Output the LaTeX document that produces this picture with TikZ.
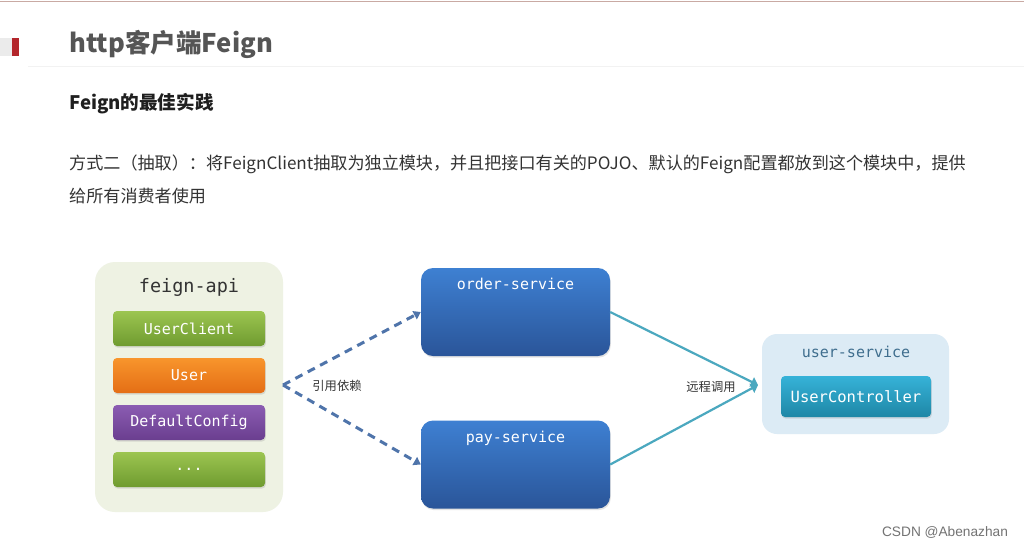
\documentclass[tikz,border=0pt]{standalone}
\usepackage{fontspec}
\setmainfont{Noto Sans CJK SC}
\newfontfamily\monof{DejaVu Sans Mono}
\newfontfamily\arialf{Liberation Sans}
\usetikzlibrary{arrows.meta,shadows}
\definecolor{topline}{HTML}{C9AAA3}
\definecolor{redbar}{HTML}{B3262B}
\definecolor{titlegray}{HTML}{555555}
\definecolor{textdark}{HTML}{333333}
\definecolor{apibg}{HTML}{EEF2E3}
\definecolor{greenT}{HTML}{9CC551}
\definecolor{greenB}{HTML}{6F9B2F}
\definecolor{orangeT}{HTML}{F8952C}
\definecolor{orangeB}{HTML}{E46E15}
\definecolor{purpleT}{HTML}{8B5CB2}
\definecolor{purpleB}{HTML}{6A3E8F}
\definecolor{blueT}{HTML}{3E80D2}
\definecolor{blueB}{HTML}{2A5599}
\definecolor{tealT}{HTML}{36B2D8}
\definecolor{tealB}{HTML}{1E87A6}
\definecolor{usvcbg}{HTML}{DCEBF5}
\definecolor{usvctext}{HTML}{3F6E8E}
\definecolor{dashblue}{HTML}{4F74AA}
\definecolor{tealline}{HTML}{4BA8BF}
\tikzset{
  shd/.style={drop shadow={opacity=0.22, shadow xshift=0.8pt, shadow yshift=-1.6pt}},
  item/.style={shd, rounded corners=4pt, minimum width=152pt, minimum height=35pt, inner sep=0pt,
    text=white, font=\monof\fontsize{15}{18}\selectfont},
  gitem/.style={item, top color=greenT, bottom color=greenB},
  svc/.style={shd, rounded corners=12pt, minimum width=189pt, minimum height=88pt, inner sep=0pt,
    top color=blueT, bottom color=blueB},
  svctext/.style={text=white, font=\monof\fontsize{15}{18}\selectfont, inner sep=0pt},
  container/.style={rounded corners=20pt, inner sep=0pt},
  lbl/.style={text=textdark, font=\fontsize{12.3}{14}\selectfont, inner sep=0pt},
  dep/.style={dashblue, line width=3pt, dash pattern=on 8pt off 6pt, -{Triangle[length=7pt,width=9pt]}},
  rcall/.style={tealline, line width=2.2pt, -{Triangle[length=7pt,width=10pt]}},
}
\begin{document}
\begin{tikzpicture}[x=1pt,y=-1pt]
\useasboundingbox (0,0) rectangle (1024,547);
\fill[white] (0,0) rectangle (1024,547);
% header decorations
\draw[topline, line width=1.4pt] (0,1.2) -- (1024,1.2);
\fill[black!8] (0,38) rectangle (12,56);
\fill[redbar] (12,38) rectangle (19,56);
\draw[black!5, line width=0.8pt] (28,66) -- (1024,66);
% texts
\node[anchor=west, inner sep=0pt, text=titlegray, font=\bfseries\fontsize{25.6}{30}\selectfont] (title) at (69,44) {http客户端Feign};
\node[anchor=west, inner sep=0pt, text=black!88, font=\bfseries\fontsize{18.6}{22}\selectfont] (sub) at (69,104) {Feign的最佳实践};
\node[anchor=west, inner sep=0pt, text=textdark, font=\fontsize{17.1}{20}\selectfont] (para1) at (69,164) {方式二（抽取）：将FeignClient抽取为独立模块，并且把接口有关的POJO、默认的Feign配置都放到这个模块中，提供};
\node[anchor=west, inner sep=0pt, text=textdark, font=\fontsize{17.1}{20}\selectfont] (para2) at (69,196) {给所有消费者使用};
% feign-api
\node[container, fill=apibg, minimum width=188pt, minimum height=250pt] (api) at (189,387) {};
\node[inner sep=0pt, text=textdark, font=\monof\fontsize{18.5}{22}\selectfont] (apit) at (189,287) {feign-api};
\node[gitem] (uclient) at (189,328.5) {UserClient};
\node[item, top color=orangeT, bottom color=orangeB] (user) at (189,375.5) {User};
\node[item, top color=purpleT, bottom color=purpleB] (dcfg) at (189,422.5) {DefaultConfig};
\node[gitem] (more) at (189,469.5) {...};
% services
\node[svc] (order) at (515.5,312) {};
\node[svctext] (ordert) at (515.5,284) {order-service};
\node[svc] (pay) at (515.5,464.5) {};
\node[svctext] (payt) at (515.5,438) {pay-service};
% user-service
\node[container, rounded corners=15pt, fill=usvcbg, minimum width=187pt, minimum height=100pt] (usvc) at (855.5,384) {};
\node[inner sep=0pt, text=usvctext, font=\monof\fontsize{15}{18}\selectfont] (usvct) at (856,352) {user-service};
\node[shd, rounded corners=4pt, minimum width=150pt, minimum height=41pt, inner sep=0pt, top color=tealT, bottom color=tealB, text=white, font=\monof\fontsize{15.5}{18}\selectfont] (uc) at (856,396.5) {UserController};
% connectors
\coordinate (depc) at (283,385);
\coordinate (rcc) at (758,385);
\draw[dep] (depc) -- (order.west);
\draw[dep] (depc) -- (pay.west);
\draw[rcall] (order.east) -- (rcc);
\draw[rcall] (pay.east) -- (rcc);
\node[lbl] (deplbl) at (337,386) {引用依赖};
\node[lbl] (rclbl) at (711,387) {远程调用};
% watermark
\node[inner sep=0pt, text=black!55, font=\arialf\fontsize{13.7}{16}\selectfont] (wm) at (945,532) {CSDN @Abenazhan};
\end{tikzpicture}
\end{document}
